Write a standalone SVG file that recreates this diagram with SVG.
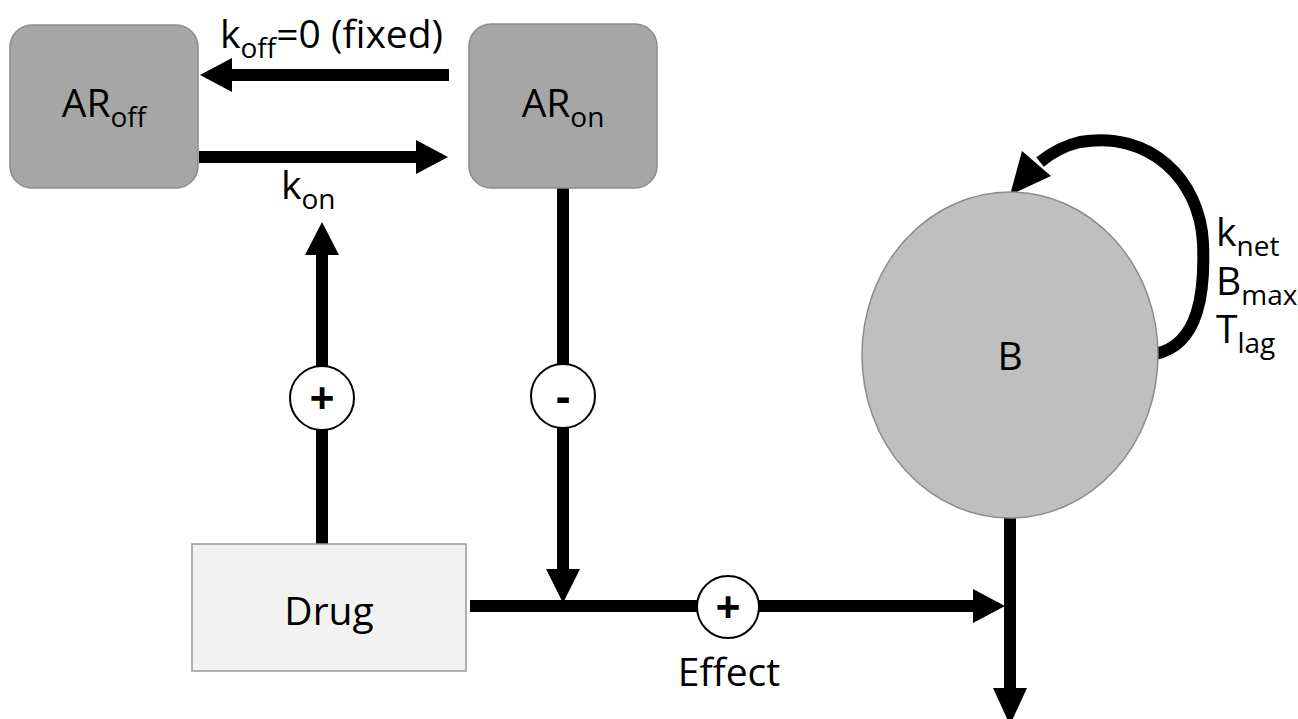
<svg xmlns="http://www.w3.org/2000/svg" width="1298" height="719" viewBox="0 0 1298 719">
<style>
text{font-family:"Open Sans","Liberation Sans",sans-serif;fill:#000}
.lbl{font-size:39px}
.sub{font-size:28px}
.sign{font-size:44px;font-weight:bold;text-anchor:middle}
.ln{stroke:#000;stroke-width:12;fill:none}
.sc{fill:#fff;stroke:#000;stroke-width:2}
</style>
<rect width="1298" height="719" fill="#fff"/>
<g id="connectors">
<line class="ln" x1="449" y1="75" x2="230" y2="75"/>
<polygon points="200,75 232,58 232,92"/>
<line class="ln" x1="199" y1="157" x2="418" y2="157"/>
<polygon points="448,157 416,140 416,174"/>
<line class="ln" x1="322" y1="544" x2="322" y2="252"/>
<polygon points="322,222 305,255 339,255"/>
<line class="ln" x1="563" y1="188" x2="563" y2="572"/>
<polygon points="563,603 546,569 580,569"/>
<line class="ln" x1="470" y1="606" x2="976" y2="606"/>
<polygon points="1005,606 973,589 973,623"/>
<line class="ln" x1="1010" y1="517" x2="1010" y2="690"/>
<polygon points="1010,725 993,688 1027,688"/>
<path class="ln" d="M1155,354 C1200,345 1205,290 1203,243 C1200,180 1150,130 1080,142 C1062,146 1050,154 1040,162"/>
<polygon points="1010,195 1022,151 1051,176"/>
</g>
<g id="ARoff">
<rect x="10" y="25" width="188" height="163" rx="22" fill="#a6a6a6" stroke="#8c8c8c" stroke-width="1.5"/>
<text class="lbl" x="104" y="117" text-anchor="middle">AR<tspan class="sub" dy="10">off</tspan></text>
</g>
<g id="ARon">
<rect x="469" y="24" width="188" height="164" rx="22" fill="#a6a6a6" stroke="#8c8c8c" stroke-width="1.5"/>
<text class="lbl" x="563" y="117" text-anchor="middle">AR<tspan class="sub" dy="10">on</tspan></text>
</g>
<g id="Drug">
<rect x="192" y="544" width="274" height="127" fill="#f2f2f2" stroke="#999" stroke-width="1.5"/>
<text class="lbl" x="329" y="625" text-anchor="middle">Drug</text>
</g>
<g id="B">
<ellipse cx="1010" cy="355" rx="148" ry="163" fill="#bfbfbf" stroke="#8c8c8c" stroke-width="1.5"/>
<text class="lbl" x="1010" y="370" text-anchor="middle">B</text>
</g>
<g id="signs">
<circle class="sc" cx="322" cy="398" r="32"/>
<text class="sign" x="322" y="414">+</text>
<circle class="sc" cx="563" cy="396" r="32"/>
<text class="sign" x="563" y="412">-</text>
<circle class="sc" cx="728" cy="607" r="31"/>
<text class="sign" x="728" y="623">+</text>
</g>
<g id="labels">
<text class="lbl" x="220" y="48">k<tspan class="sub" dy="10">off</tspan><tspan dy="-10">=0 (fixed)</tspan></text>
<text class="lbl" x="281" y="199">k<tspan class="sub" dy="10">on</tspan></text>
<text class="lbl" x="729" y="686" text-anchor="middle">Effect</text>
<text class="lbl" x="1216" y="246">k<tspan class="sub" dy="10">net</tspan></text>
<text class="lbl" x="1216" y="295">B<tspan class="sub" dy="10">max</tspan></text>
<text class="lbl" x="1216" y="343">T<tspan class="sub" dy="10">lag</tspan></text>
</g>
</svg>
